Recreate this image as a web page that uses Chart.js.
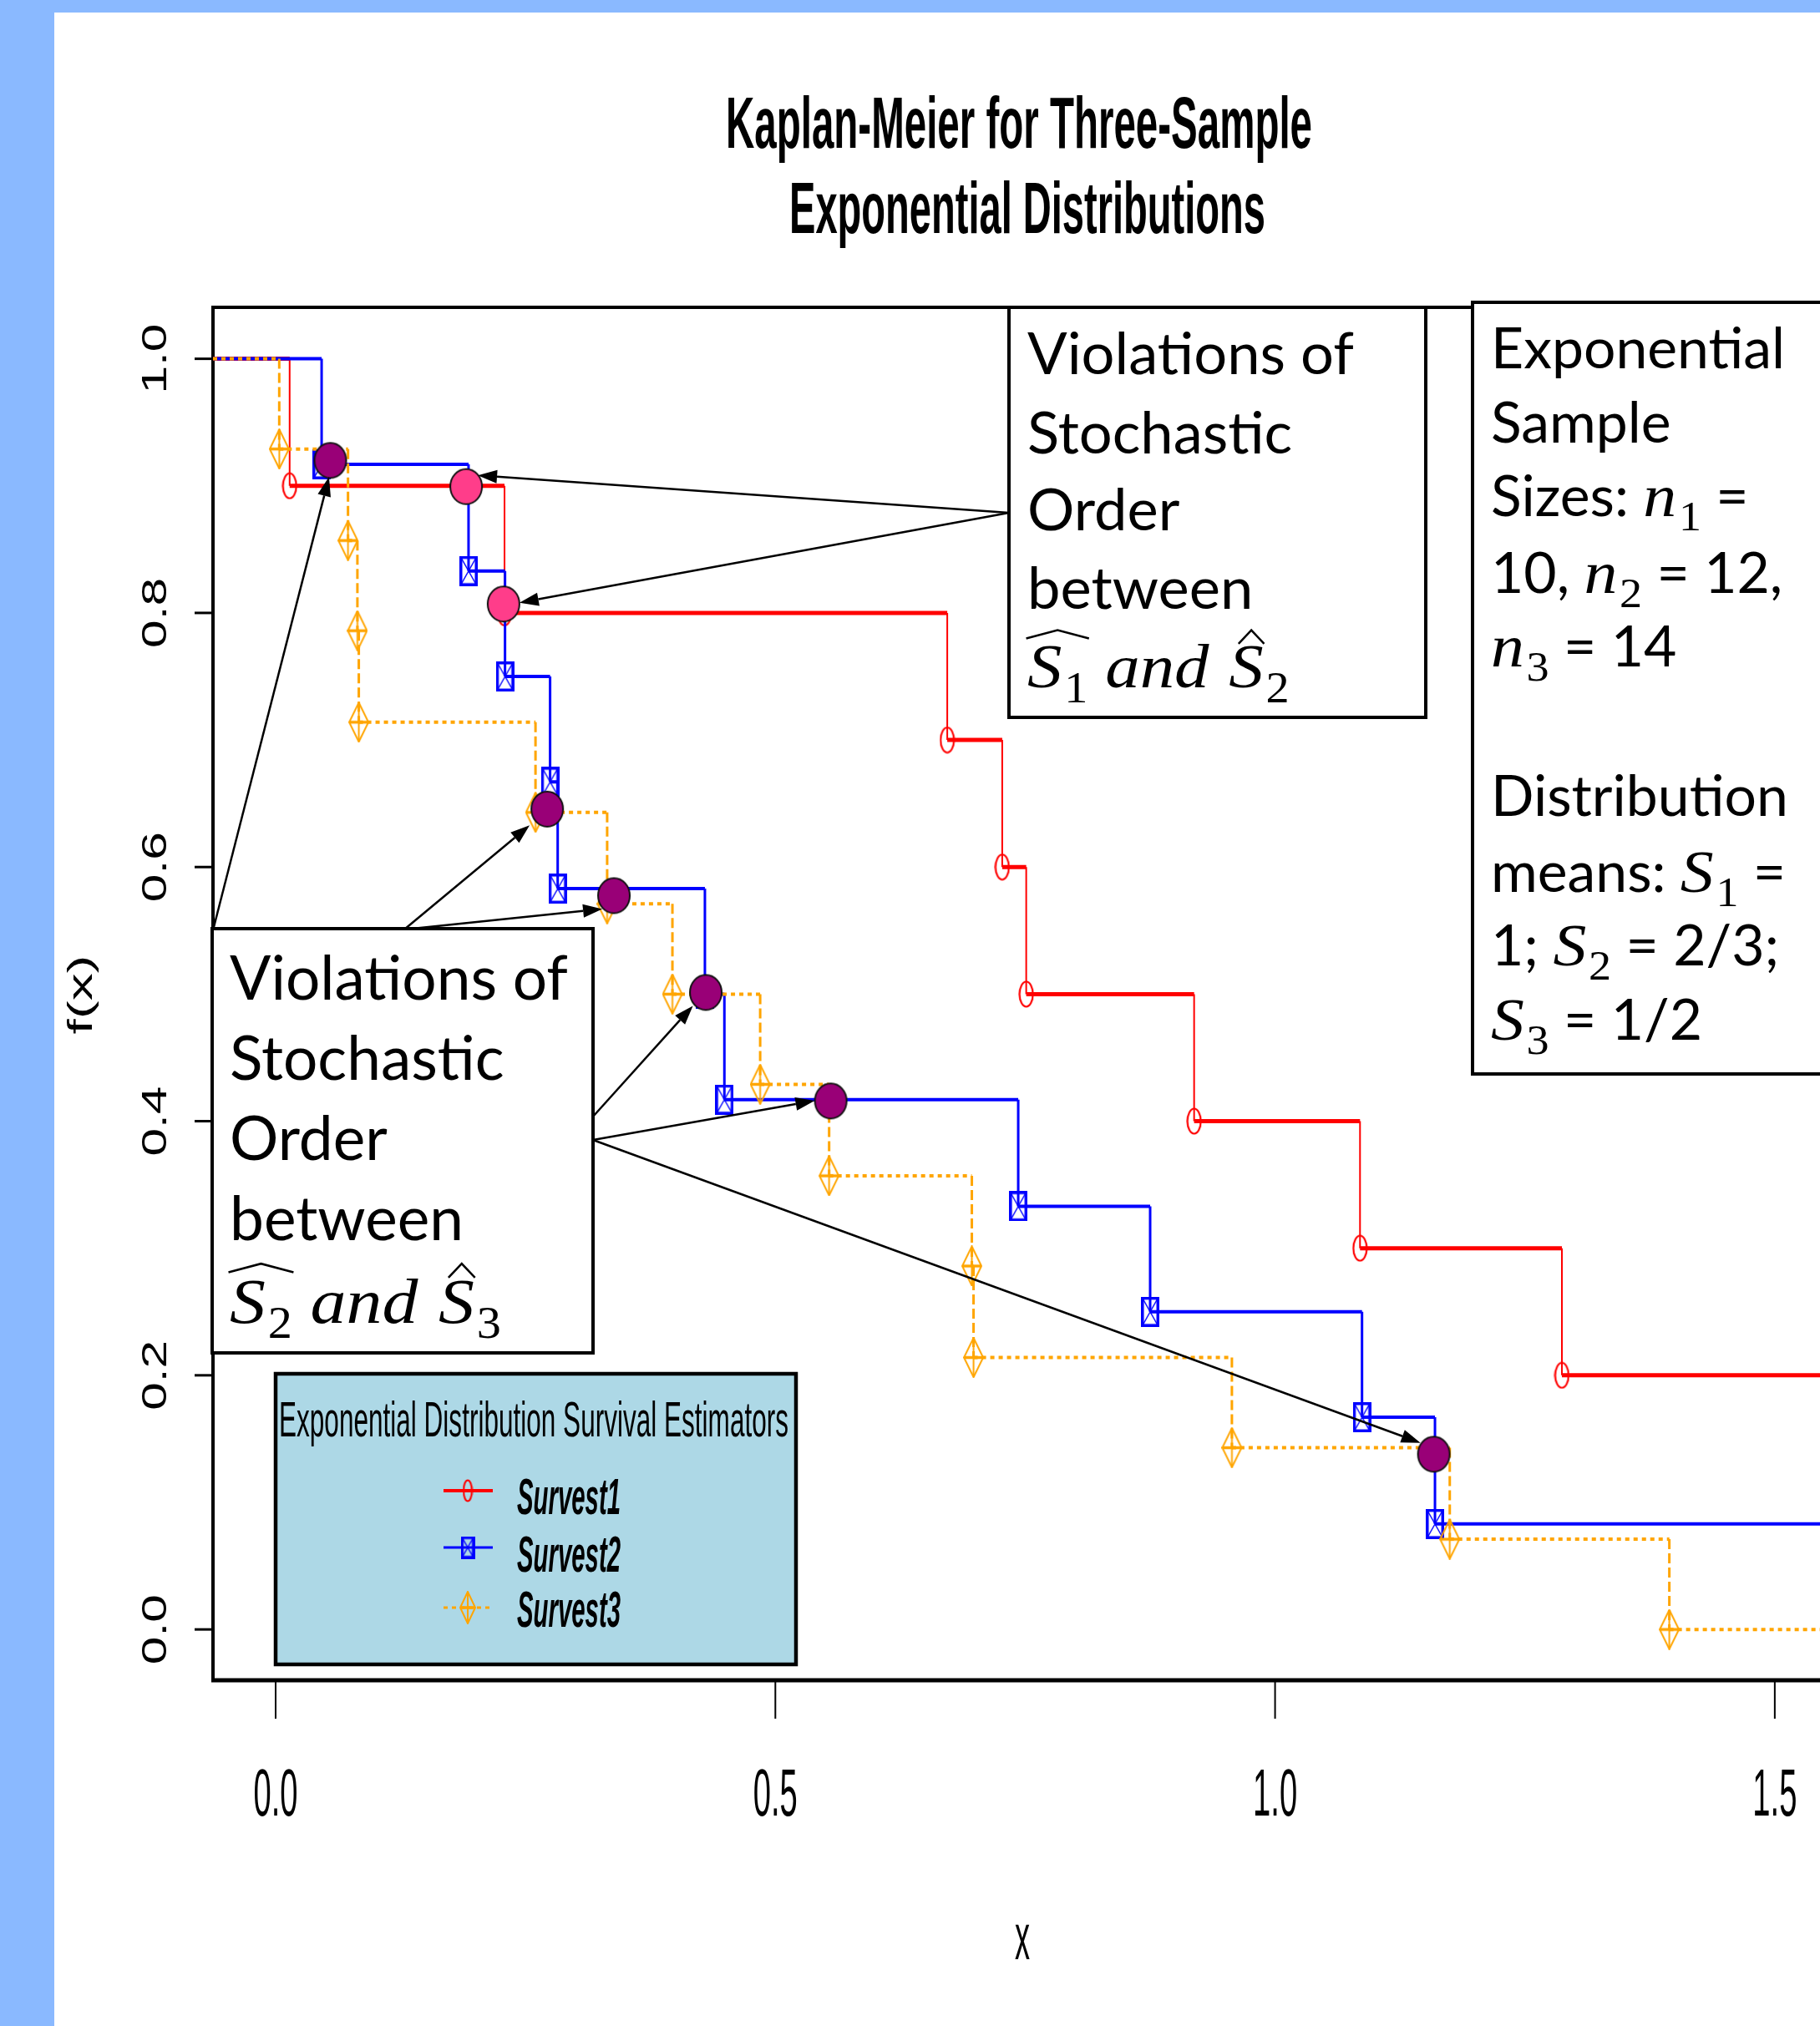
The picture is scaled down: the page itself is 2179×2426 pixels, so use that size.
<!DOCTYPE html>
<html>
<head>
<meta charset="utf-8">
<title>Kaplan-Meier for Three-Sample Exponential Distributions</title>
<script src="https://cdn.jsdelivr.net/npm/chart.js@4.4.1/dist/chart.umd.min.js"></script>
<style>
  html, body { margin: 0; padding: 0; overflow: hidden; background: #fff; }
  #page { position: relative; width: 2179px; height: 2426px; overflow: hidden; background: #fff; }
  .band-top { position: absolute; left: 0; top: 0; width: 2179px; height: 15px; background: #8ab9ff; }
  .band-left { position: absolute; left: 0; top: 0; width: 65px; height: 2426px; background: #8ab9ff; }
  #km { position: absolute; left: 0; top: 0; }
</style>
</head>
<body>
<div id="page">
  <div class="band-top"></div>
  <div class="band-left"></div>
  <canvas id="km" width="2300" height="2426"></canvas>
</div>
<script>
// axis ranges and ticks
const xRange = [-0.0627, 1.633];
const yRange = [-0.04, 1.0405];
const xTicks = [0, 0.5, 1.0, 1.5];
const xTickLabels = ['0.0', '0.5', '1.0', '1.5'];
const yTicks = [0, 0.2, 0.4, 0.6, 0.8, 1.0];
const yTickLabels = ['0.0', '0.2', '0.4', '0.6', '0.8', '1.0'];

const titleLines = ['Kaplan-Meier for Three-Sample', 'Exponential Distributions'];
const xAxisTitle = 'x';
const yAxisTitle = 'f(x)';
const legendTitle = 'Exponential Distribution Survival Estimators';
const seriesNames = ['Survest1', 'Survest2', 'Survest3'];

// Kaplan-Meier event times and survival after each event
const survest1Times = [0.014, 0.229, 0.672, 0.727, 0.751, 0.919, 1.085, 1.287];
const survest1Values = [0.9, 0.8, 0.7, 0.6, 0.5, 0.4, 0.3, 0.2];
const survest2Times = [0.046, 0.193, 0.2295, 0.2746, 0.2822, 0.4295, 0.449, 0.743, 0.875, 1.087, 1.160];
const survest2Values = [0.917, 0.833, 0.75, 0.667, 0.583, 0.5, 0.417, 0.333, 0.25, 0.167, 0.083];
const survest3Times = [0.0036, 0.0724, 0.0818, 0.0832, 0.260, 0.3317, 0.397, 0.4848, 0.5538, 0.6966, 0.6983, 0.9568, 1.1748, 1.3945];
const survest3Values = [0.929, 0.857, 0.786, 0.714, 0.643, 0.571, 0.5, 0.429, 0.357, 0.286, 0.214, 0.143, 0.071, 0.0];

// highlighted violations: S1 vs S2 (pink), S2 vs S3 (purple)
const pinkX = [0.1906, 0.228];
const pinkY = [0.8994, 0.807];
const purpleX = [0.0547, 0.2717, 0.3385, 0.4304, 0.5554, 1.1588];
const purpleY = [0.920, 0.6456, 0.5775, 0.5013, 0.4159, 0.1379];

// arrow tips in data units, sources are pixel points on the note boxes
const arrows = [
  { from: [1208, 614], tip: [0.2023, 0.9083] },
  { from: [1208, 614], tip: [0.2439, 0.808] },
  { from: [256, 1110], tip: [0.0534, 0.907] },
  { from: [484, 1113], tip: [0.2541, 0.6328] },
  { from: [484, 1113], tip: [0.3268, 0.567] },
  { from: [710, 1337], tip: [0.4175, 0.4908] },
  { from: [710, 1365], tip: [0.5394, 0.4162] },
  { from: [710, 1365], tip: [1.1455, 0.1469] },
];

// note boxes
const notes = [
  {
    box: [1208, 368, 499, 491], left: 1230, fitWord: 'Violations of', fitWidth: 391,
    baselines: [448, 543, 635, 729, 823],
    lines: [
      [['r', 'Violations of']],
      [['r', 'Stochastic']],
      [['r', 'Order']],
      [['r', 'between']],
      [['i', 'S', 'wide'], ['s', '1'], ['r', ' '], ['i', 'and'], ['r', ' '], ['i', 'S', 'hat'], ['s', '2']],
    ],
  },
  {
    box: [254, 1112, 456, 508], left: 275, fitWord: 'Violations of', fitWidth: 405,
    baselines: [1197, 1293, 1389, 1485, 1584],
    lines: [
      [['r', 'Violations of']],
      [['r', 'Stochastic']],
      [['r', 'Order']],
      [['r', 'between']],
      [['i', 'S', 'wide'], ['s', '2'], ['r', ' '], ['i', 'and'], ['r', ' '], ['i', 'S', 'hat'], ['s', '3']],
    ],
  },
  {
    box: [1763, 362, 600, 924], left: 1785, fitWord: 'Exponential', fitWidth: 352,
    baselines: [441, 530, 618, 710, 798, 888, 977, 1068, 1156, 1245],
    lines: [
      [['r', 'Exponential']],
      [['r', 'Sample']],
      [['r', 'Sizes: '], ['i', 'n'], ['s', '1'], ['r', ' =']],
      [['r', '10, '], ['i', 'n'], ['s', '2'], ['r', ' = 12,']],
      [['i', 'n'], ['s', '3'], ['r', ' = 14']],
      [],
      [['r', 'Distribution']],
      [['r', 'means: '], ['i', 'S'], ['s', '1'], ['r', ' =']],
      [['r', '1; '], ['i', 'S'], ['s', '2'], ['r', ' = 2/3;']],
      [['i', 'S'], ['s', '3'], ['r', ' = 1/2']],
    ],
  },
];

// ---- point markers drawn on small canvases ----
function markCanvas(w, h, draw) {
  const c = document.createElement('canvas');
  c.width = w;
  c.height = h;
  draw(c.getContext('2d'), w, h);
  return c;
}
function ellipseMark(w, h, color) {
  return markCanvas(w, h, (g) => {
    g.strokeStyle = color;
    g.lineWidth = 2.2;
    g.beginPath();
    g.ellipse(w / 2, h / 2, w / 2 - 1.5, h / 2 - 1.5, 0, 0, Math.PI * 2);
    g.stroke();
  });
}
function boxMark(w, h, color) {
  return markCanvas(w, h, (g) => {
    g.strokeStyle = color;
    g.lineWidth = 3.5;
    g.strokeRect(1.75, 1.75, w - 3.5, h - 3.5);
    g.lineWidth = 1.5;
    g.beginPath();
    g.moveTo(2, 2); g.lineTo(w - 2, h - 2);
    g.moveTo(w - 2, 2); g.lineTo(2, h - 2);
    g.stroke();
  });
}
function diamondMark(w, h, color) {
  return markCanvas(w, h, (g) => {
    g.strokeStyle = color;
    g.lineWidth = 2;
    g.beginPath();
    g.moveTo(w / 2, 1); g.lineTo(w - 1, h / 2); g.lineTo(w / 2, h - 1); g.lineTo(1, h / 2);
    g.closePath();
    g.stroke();
    g.beginPath();
    g.moveTo(w / 2, 1); g.lineTo(w / 2, h - 1);
    g.stroke();
    g.lineWidth = 3.5;
    g.beginPath();
    g.moveTo(1, h / 2); g.lineTo(w - 1, h / 2);
    g.stroke();
  });
}
function dotMark(w, h, fill) {
  return markCanvas(w, h, (g) => {
    g.fillStyle = fill;
    g.strokeStyle = '#111';
    g.lineWidth = 2;
    g.beginPath();
    g.ellipse(w / 2, h / 2, w / 2 - 2, h / 2 - 2, 0, 0, Math.PI * 2);
    g.fill();
    g.stroke();
  });
}

const redMark = ellipseMark(19, 33, '#ff0000');
const blueMark = boxMark(22, 36, '#0000ff');
const orangeMark = diamondMark(25, 49, '#ffa500');
const pinkDot = dotMark(42, 46, '#ff3d8a');
const purpleDot = dotMark(42, 46, '#990077');
const legendMarks = [ellipseMark(13, 28, '#ff0000'), boxMark(17, 27, '#0000ff'), diamondMark(20, 40, '#ffa500')];

// line looks: horizontal runs are heavier than the drops in the original
const seriesStyle = [
  { color: '#ff0000', hWidth: 5, vWidth: 2, hDash: [], vDash: [], mark: redMark, order: 3 },
  { color: '#0000ff', hWidth: 4, vWidth: 3, hDash: [], vDash: [], mark: blueMark, order: 2 },
  { color: '#ffa500', hWidth: 4, vWidth: 3, hDash: [5, 5], vDash: [12, 5], mark: orangeMark, order: 1 },
];

// flat runs of a KM curve, broken by gaps; the mark sits at the start of each run
function kmRuns(times, values) {
  const pts = [];
  const levels = [1].concat(values);
  const starts = [xRange[0]].concat(times);
  const ends = times.concat([xRange[1]]);
  levels.forEach((v, i) => {
    pts.push({ x: starts[i], y: v, mark: i > 0 });
    pts.push({ x: ends[i], y: v, mark: false });
    pts.push({ x: ends[i], y: null, mark: false });
  });
  return pts;
}
// drops of a KM curve at each event time
function kmDrops(times, values) {
  const pts = [];
  times.forEach((t, i) => {
    pts.push({ x: t, y: i === 0 ? 1 : values[i - 1] });
    pts.push({ x: t, y: values[i] });
    pts.push({ x: t, y: null });
  });
  return pts;
}

// ---- text helpers ----
function squeezed(ctx, text, x, y, font, opt) {
  ctx.save();
  ctx.font = font;
  const w = ctx.measureText(text).width;
  const sx = opt.width ? opt.width / w : (opt.sx || 1);
  ctx.translate(x, y);
  if (opt.rotate) ctx.rotate(opt.rotate);
  ctx.scale(sx, 1);
  ctx.textAlign = opt.align || 'center';
  ctx.textBaseline = opt.baseline || 'alphabetic';
  ctx.fillStyle = '#000';
  ctx.fillText(text, 0, 0);
  ctx.restore();
}

function drawHat(ctx, x0, x1, base, s, wide) {
  const top = base - s * 0.97;
  const end = base - (wide ? 0.83 : 0.74) * s;
  ctx.save();
  ctx.lineWidth = s * 0.035;
  ctx.beginPath();
  ctx.moveTo(x0, end);
  ctx.lineTo((x0 + x1) / 2, top);
  ctx.lineTo(x1, end);
  ctx.stroke();
  ctx.restore();
}

function drawRich(ctx, runs, x, y, s) {
  let cx = x;
  let hatStart = null;
  runs.forEach(([kind, text, hat]) => {
    let dy = 0;
    let sx = 1;
    if (kind === 'r') ctx.font = `${s}px Lato`;
    else if (kind === 'i') { ctx.font = `italic ${s * 1.05}px "Liberation Serif"`; sx = 1.12; }
    else { ctx.font = `${s * 0.76}px "Liberation Serif"`; dy = s * 0.25; sx = 1.05; }
    const w = ctx.measureText(text).width * sx;
    ctx.save();
    ctx.translate(cx, y + dy);
    ctx.scale(sx, 1);
    ctx.fillText(text, 0, 0);
    ctx.restore();
    if (hat === 'wide') hatStart = cx;
    if (hat === 'hat') drawHat(ctx, cx + w * 0.28, cx + w * 1.02, y, s, false);
    if (kind === 's' && hatStart !== null) {
      drawHat(ctx, hatStart - s * 0.02, cx + w + s * 0.02, y, s, true);
      hatStart = null;
    }
    cx += w;
    if (kind === 'i') cx += s * 0.04;
    if (kind === 'r' && text === ' ') cx += s * 0.04;
  });
}

function drawArrow(ctx, x0, y0, x1, y1) {
  const a = Math.atan2(y1 - y0, x1 - x0);
  const L = 23, W = 8;
  const bx = x1 - L * Math.cos(a), by = y1 - L * Math.sin(a);
  ctx.beginPath();
  ctx.moveTo(x0, y0);
  ctx.lineTo(bx, by);
  ctx.stroke();
  ctx.beginPath();
  ctx.moveTo(x1, y1);
  ctx.lineTo(bx + W * Math.sin(a), by - W * Math.cos(a));
  ctx.lineTo(bx - W * Math.sin(a), by + W * Math.cos(a));
  ctx.closePath();
  ctx.fill();
}

// frame, ticks, axis labels and title (R base-graphics look)
const framePlugin = {
  id: 'frame',
  beforeDatasetsDraw(chart) {
    const { ctx, chartArea: a, scales: { x, y } } = chart;
    ctx.save();
    ctx.strokeStyle = '#000';
    ctx.lineWidth = 4;
    ctx.beginPath();
    ctx.moveTo(a.right + 20, a.top);
    ctx.lineTo(a.left, a.top);
    ctx.lineTo(a.left, a.bottom);
    ctx.stroke();
    ctx.lineWidth = 5;
    ctx.beginPath();
    ctx.moveTo(a.left - 2, a.bottom);
    ctx.lineTo(a.right + 20, a.bottom);
    ctx.stroke();

    ctx.lineWidth = 2;
    xTicks.forEach((v, i) => {
      const px = x.getPixelForValue(v);
      ctx.beginPath();
      ctx.moveTo(px, a.bottom);
      ctx.lineTo(px, a.bottom + 46);
      ctx.stroke();
      squeezed(ctx, xTickLabels[i], px, 2174, '80px "Liberation Sans"', { width: 53 });
    });
    ctx.lineWidth = 3;
    yTicks.forEach((v, i) => {
      const py = y.getPixelForValue(v);
      ctx.beginPath();
      ctx.moveTo(a.left, py);
      ctx.lineTo(a.left - 22, py);
      ctx.stroke();
      squeezed(ctx, yTickLabels[i], 187, py, '43px "Liberation Sans"',
        { width: 84, rotate: -Math.PI / 2, baseline: 'middle' });
    });

    squeezed(ctx, xAxisTitle, 1224, 2346, '77px "Liberation Sans"', { width: 18 });
    squeezed(ctx, yAxisTitle, 99, 1191, '40px "Liberation Sans"',
      { width: 95, rotate: -Math.PI / 2, baseline: 'middle' });

    squeezed(ctx, titleLines[0], 1220, 177, 'bold 87px "Liberation Sans"', { width: 702 });
    squeezed(ctx, titleLines[1], 1230, 279, 'bold 87px "Liberation Sans"', { width: 570 });
    ctx.restore();
  },
};

// arrows, note boxes and legend on top
const notesPlugin = {
  id: 'notes',
  afterDraw(chart) {
    const { ctx, scales: { x, y } } = chart;
    ctx.save();
    ctx.strokeStyle = '#000';
    ctx.fillStyle = '#000';
    ctx.lineWidth = 2.5;
    arrows.forEach((ar) => {
      drawArrow(ctx, ar.from[0], ar.from[1], x.getPixelForValue(ar.tip[0]), y.getPixelForValue(ar.tip[1]));
    });

    notes.forEach((n) => {
      const [bx, by, bw, bh] = n.box;
      ctx.fillStyle = '#fff';
      ctx.fillRect(bx, by, bw, bh);
      ctx.strokeStyle = '#000';
      ctx.lineWidth = 4;
      ctx.strokeRect(bx, by, bw, bh);
      ctx.font = '100px Lato';
      const s = 100 * n.fitWidth / ctx.measureText(n.fitWord).width;
      ctx.fillStyle = '#000';
      ctx.textAlign = 'left';
      ctx.textBaseline = 'alphabetic';
      n.lines.forEach((runs, i) => drawRich(ctx, runs, n.left, n.baselines[i], s));
    });

    // legend
    ctx.fillStyle = '#add8e6';
    ctx.fillRect(330, 1645, 623, 348);
    ctx.strokeStyle = '#000';
    ctx.lineWidth = 4.5;
    ctx.strokeRect(330, 1645, 623, 348);
    squeezed(ctx, legendTitle, 639, 1720, '60px "Liberation Sans"', { width: 610 });
    const rows = [1785, 1853, 1925];
    const bases = [1813, 1882, 1948];
    seriesStyle.forEach((st, i) => {
      ctx.save();
      ctx.strokeStyle = st.color;
      ctx.lineWidth = st.hWidth - 1;
      ctx.setLineDash(st.hDash);
      ctx.beginPath();
      ctx.moveTo(531, rows[i]);
      ctx.lineTo(590, rows[i]);
      ctx.stroke();
      ctx.restore();
      const m = legendMarks[i];
      ctx.drawImage(m, 560 - m.width / 2, rows[i] - m.height / 2);
      squeezed(ctx, seriesNames[i], 619, bases[i], 'italic bold 62px "Liberation Sans"', { width: 124, align: 'left' });
    });
    ctx.restore();
  },
};

const seriesData = [
  [survest1Times, survest1Values],
  [survest2Times, survest2Values],
  [survest3Times, survest3Values],
];
const curveSets = [];
seriesData.forEach(([t, v], i) => {
  const st = seriesStyle[i];
  curveSets.push({
    label: seriesNames[i] + ' drops', data: kmDrops(t, v),
    borderColor: st.color, borderWidth: st.vWidth, borderDash: st.vDash,
    pointRadius: 0, fill: false, spanGaps: false, order: st.order,
  });
  curveSets.push({
    label: seriesNames[i], data: kmRuns(t, v),
    borderColor: st.color, borderWidth: st.hWidth, borderDash: st.hDash,
    pointStyle: st.mark, pointRadius: (c) => (c.raw && c.raw.mark ? 6 : 0),
    fill: false, spanGaps: false, order: st.order,
  });
});

new Chart(document.getElementById('km'), {
  type: 'line',
  data: {
    datasets: [
      {
        label: 'pink', data: pinkX.map((v, i) => ({ x: v, y: pinkY[i] })),
        showLine: false, pointStyle: pinkDot, pointRadius: 6, order: 0,
      },
      {
        label: 'purple', data: purpleX.map((v, i) => ({ x: v, y: purpleY[i] })),
        showLine: false, pointStyle: purpleDot, pointRadius: 6, order: 0,
      },
    ].concat(curveSets),
  },
  options: {
    responsive: false,
    animation: false,
    events: [],
    layout: { padding: { left: 255, top: 368, right: 16, bottom: 414 } },
    scales: {
      x: { type: 'linear', min: xRange[0], max: xRange[1], display: false },
      y: { type: 'linear', min: yRange[0], max: yRange[1], display: false },
    },
    plugins: { legend: { display: false }, tooltip: { enabled: false } },
  },
  plugins: [framePlugin, notesPlugin],
});
</script>
</body>
</html>
